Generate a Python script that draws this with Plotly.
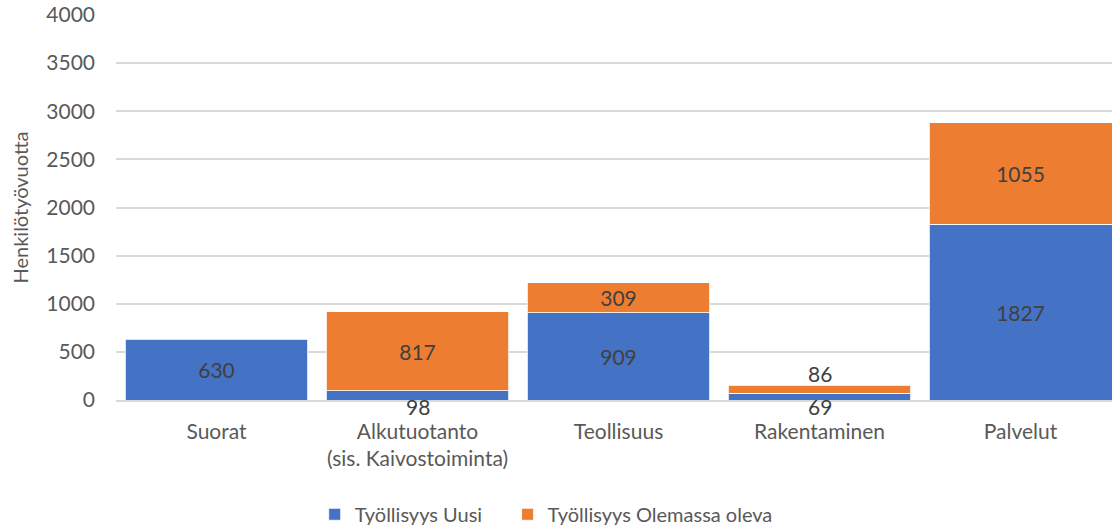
import plotly.graph_objects as go

categories = ["Suorat", "Alkutuotanto<br>(sis. Kaivostoiminta)", "Teollisuus", "Rakentaminen", "Palvelut"]
uusi = [630, 98, 909, 69, 1827]
olemassa = [None, 817, 309, 86, 1055]
series_names = ["Työllisyys Uusi", "Työllisyys Olemassa oleva"]
y_ticks = [0, 500, 1000, 1500, 2000, 2500, 3000, 3500, 4000]

BLUE = "#4472C4"
ORANGE = "#ED7D31"
LABEL = "#404040"
AXIS = "#595959"
FONT = "Lato, 'Open Sans', sans-serif"
SMALL = 150  # values too small to hold an inside label
PAD = "\u00a0" * 4  # extra spacing between legend entries

def inside_text(vals):
    return ["" if (v is None or v < SMALL) else str(v) for v in vals]

fig = go.Figure()
fig.add_trace(go.Bar(
    x=categories, y=uusi, name=series_names[0] + PAD,
    marker=dict(color=BLUE, line=dict(color="white", width=0.8)),
    text=inside_text(uusi), textposition="inside", insidetextanchor="middle",
    textfont=dict(color=LABEL, size=21, family=FONT), constraintext="none",
    hoverinfo="x+y",
))
fig.add_trace(go.Bar(
    x=categories, y=olemassa, name=series_names[1],
    marker=dict(color=ORANGE, line=dict(color="white", width=0.8)),
    text=inside_text(olemassa), textposition="inside", insidetextanchor="middle",
    textfont=dict(color=LABEL, size=21, family=FONT), constraintext="none",
    hoverinfo="x+y",
))

annotations = []
for c, u, o in zip(categories, uusi, olemassa):
    if u is not None and u < SMALL:
        annotations.append(dict(x=c, y=0, text=str(u), showarrow=False,
                                yanchor="top", yshift=8,
                                font=dict(color=LABEL, size=21, family=FONT)))
    if o is not None and o < SMALL:
        annotations.append(dict(x=c, y=(u or 0) + o, text=str(o), showarrow=False,
                                yanchor="bottom", yshift=-3,
                                font=dict(color=LABEL, size=21, family=FONT)))

fig.update_layout(
    width=1112, height=528,
    barmode="stack", bargap=0.09,
    plot_bgcolor="white", paper_bgcolor="white",
    margin=dict(l=116, r=0, t=15, b=128, autoexpand=False),
    font=dict(family=FONT, color=AXIS, size=20),
    annotations=annotations,
    legend=dict(orientation="h", xref="container", yref="container",
                x=0.283, xanchor="left", y=0.026, yanchor="middle",
                font=dict(size=20, color=AXIS), itemwidth=30,
                traceorder="normal"),
    showlegend=True,
)
fig.update_yaxes(range=[0, 4000], tickvals=y_ticks, showgrid=True,
                 gridcolor="#d9d9d9", gridwidth=1.5, zeroline=False,
                 showline=False, ticklabelstandoff=20, tickfont=dict(size=21, color=AXIS),
                 title=dict(text="Henkilötyövuotta", font=dict(size=20, color=AXIS), standoff=12))
fig.update_xaxes(showline=True, linecolor="#d9d9d9", linewidth=1.5,
                 range=[-0.5, 4.455],
                 ticks="", ticklabelstandoff=12, tickfont=dict(size=21, color=AXIS))

fig.write_html("out.html", config={"displayModeBar": False},
               post_script="document.body.style.margin='0';")
